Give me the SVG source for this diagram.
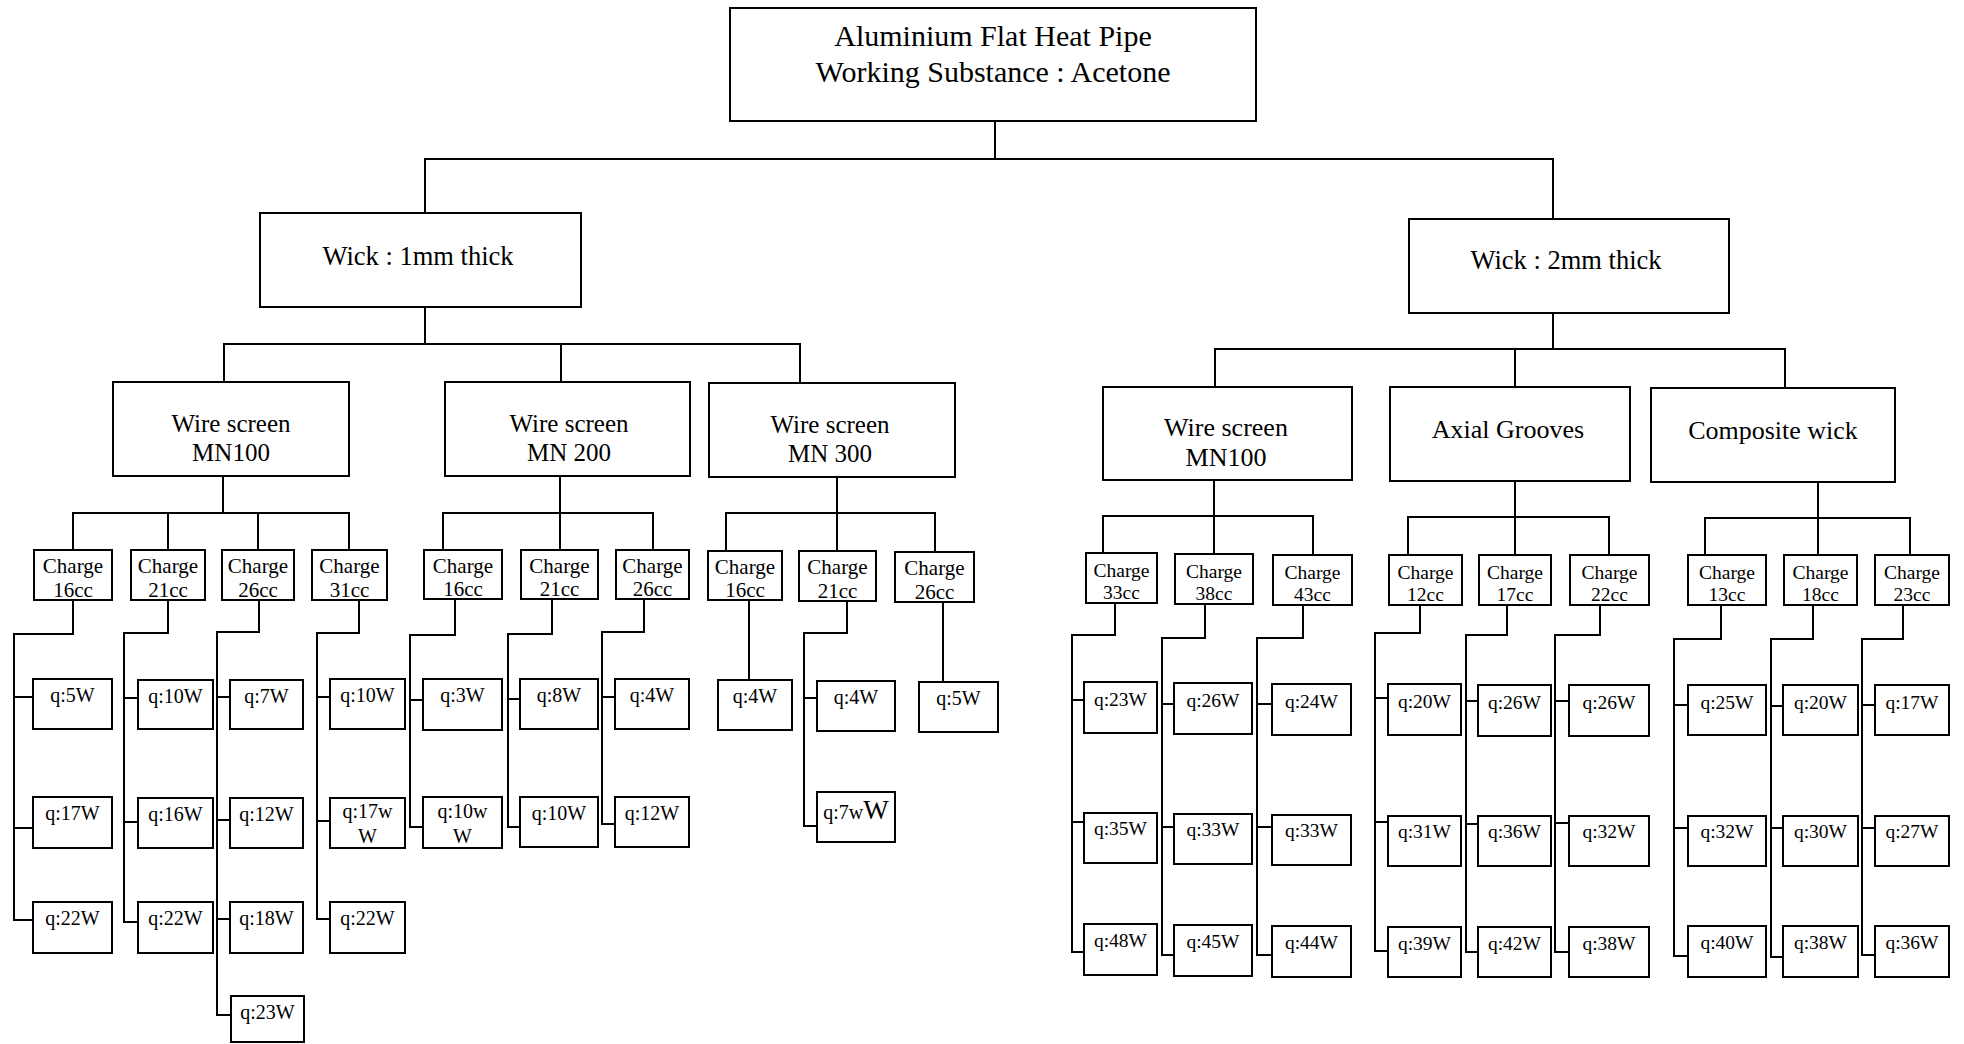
<svg xmlns="http://www.w3.org/2000/svg" width="1964" height="1044" viewBox="0 0 1964 1044">
<style>
.bx{fill:#fff;stroke:#000;stroke-width:2}
.ln{fill:none;stroke:#000;stroke-width:2}
text{font-family:"Liberation Serif","Times New Roman",serif;fill:#000;text-anchor:middle}
.t1{font-size:30px}
.tw{font-size:26.5px}
.tl{font-size:25px}
.tr{font-size:26px}
.cl{font-size:21px}
.cr{font-size:19.5px}
.ql{font-size:20px}
.qr{font-size:19.5px}
</style>
<rect width="1964" height="1044" fill="#fff"/>
<g id="connectors" class="ln">
<path d="M995 121V159M425 213V159H1553V219"/>
<path d="M425 307V344M224 382V344H800V383M561 344V382"/>
<path d="M1553 313V349M1215 387V349H1785V388M1515 349V387"/>
<path d="M223 476V513M73 550V513H349V550M168 513V550M258 513V550"/>
<path d="M560 476V513M443 550V513H653V550M560 513V550"/>
<path d="M837 477V513M726 551V513H935V552M837 513V551"/>
<path d="M1214 480V516M1103 553V516H1313V555M1214 516V554"/>
<path d="M1515 481V517M1408 555V517H1609V555M1515 517V555"/>
<path d="M1818 482V518M1705 555V518H1910V555M1818 518V555"/>
<path d="M73 600V634H14V920H33M14 697H33M14 828H33"/>
<path d="M168 600V633H124V922H138M124 698H138M124 822H138"/>
<path d="M259 600V632H217V1015H230M217 697H230M217 820H230M217 919H230"/>
<path d="M359 600V633H317V919H330M317 697H330M317 821H330"/>
<path d="M455 600V635H410V827H423M410 700H423"/>
<path d="M552 599V634H508V827H520M508 699H520"/>
<path d="M644 599V632H602V824H615M602 697H615"/>
<path d="M749 600V680"/>
<path d="M847 601V633H804V826H817M804 698H817"/>
<path d="M943 602V682"/>
<path d="M1115 603V635H1072V952H1084M1072 700H1084M1072 822H1084"/>
<path d="M1205 604V638H1162V955H1174M1162 704H1174M1162 827H1174"/>
<path d="M1303 605V638H1257V955H1272M1257 704H1272M1257 827H1272"/>
<path d="M1420 605V633H1375V951H1388M1375 698H1388M1375 822H1388"/>
<path d="M1507 605V635H1466V952H1478M1466 701H1478M1466 824H1478"/>
<path d="M1600 605V635H1555V952H1569M1555 701H1569M1555 823H1569"/>
<path d="M1721 605V639H1674V956H1688M1674 705H1688M1674 828H1688"/>
<path d="M1813 605V639H1771V957H1783M1771 706H1783M1771 828H1783"/>
<path d="M1903 605V639H1862V955H1875M1862 705H1875M1862 828H1875"/>
</g>
<g id="n-top"><rect class="bx" x="730" y="8" width="526" height="113"/><text class="t1" x="993" y="46">Aluminium Flat Heat Pipe</text><text class="t1" x="993" y="82">Working Substance : Acetone</text></g>
<g id="n-wick1"><rect class="bx" x="260" y="213" width="321" height="94"/><text class="tw" x="418" y="265">Wick : 1mm thick</text></g>
<g id="n-wick2"><rect class="bx" x="1409" y="219" width="320" height="94"/><text class="tw" x="1566" y="269">Wick : 2mm thick</text></g>
<g id="n-ws100a"><rect class="bx" x="113" y="382" width="236" height="94"/><text class="tl" x="231" y="432">Wire screen</text><text class="tl" x="231" y="461">MN100</text></g>
<g id="n-ws200"><rect class="bx" x="445" y="382" width="245" height="94"/><text class="tl" x="569" y="432">Wire screen</text><text class="tl" x="569" y="461">MN 200</text></g>
<g id="n-ws300"><rect class="bx" x="709" y="383" width="246" height="94"/><text class="tl" x="830" y="433">Wire screen</text><text class="tl" x="830" y="462">MN 300</text></g>
<g id="n-ws100b"><rect class="bx" x="1103" y="387" width="249" height="93"/><text class="tr" x="1226" y="436">Wire screen</text><text class="tr" x="1226" y="466">MN100</text></g>
<g id="n-axial"><rect class="bx" x="1390" y="387" width="240" height="94"/><text class="tr" x="1508" y="438">Axial Grooves</text></g>
<g id="n-comp"><rect class="bx" x="1651" y="388" width="244" height="94"/><text class="tr" x="1773" y="439">Composite wick</text></g>
<g id="n-c16a"><rect class="bx" x="34" y="550" width="78" height="50"/><text class="cl" x="73" y="573">Charge</text><text class="cl" x="73" y="597">16cc</text></g>
<g id="n-c21a"><rect class="bx" x="131" y="550" width="74" height="50"/><text class="cl" x="168" y="573">Charge</text><text class="cl" x="168" y="597">21cc</text></g>
<g id="n-c26a"><rect class="bx" x="222" y="550" width="72" height="50"/><text class="cl" x="258" y="573">Charge</text><text class="cl" x="258" y="597">26cc</text></g>
<g id="n-c31a"><rect class="bx" x="312" y="550" width="75" height="50"/><text class="cl" x="349.5" y="573">Charge</text><text class="cl" x="349.5" y="597">31cc</text></g>
<g id="n-c16b"><rect class="bx" x="424" y="550" width="78" height="49"/><text class="cl" x="463" y="573">Charge</text><text class="cl" x="463" y="596">16cc</text></g>
<g id="n-c21b"><rect class="bx" x="521" y="550" width="77" height="49"/><text class="cl" x="559.5" y="573">Charge</text><text class="cl" x="559.5" y="596">21cc</text></g>
<g id="n-c26b"><rect class="bx" x="616" y="550" width="73" height="49"/><text class="cl" x="652.5" y="573">Charge</text><text class="cl" x="652.5" y="596">26cc</text></g>
<g id="n-c16c"><rect class="bx" x="708" y="551" width="74" height="49"/><text class="cl" x="745" y="574">Charge</text><text class="cl" x="745" y="597">16cc</text></g>
<g id="n-c21c"><rect class="bx" x="799" y="551" width="77" height="50"/><text class="cl" x="837.5" y="574">Charge</text><text class="cl" x="837.5" y="598">21cc</text></g>
<g id="n-c26c"><rect class="bx" x="895" y="552" width="79" height="50"/><text class="cl" x="934.5" y="575">Charge</text><text class="cl" x="934.5" y="599">26cc</text></g>
<g id="n-c33"><rect class="bx" x="1086" y="553" width="71" height="50"/><text class="cr" x="1121.5" y="577">Charge</text><text class="cr" x="1121.5" y="599">33cc</text></g>
<g id="n-c38"><rect class="bx" x="1175" y="554" width="78" height="50"/><text class="cr" x="1214" y="578">Charge</text><text class="cr" x="1214" y="600">38cc</text></g>
<g id="n-c43"><rect class="bx" x="1273" y="555" width="79" height="50"/><text class="cr" x="1312.5" y="579">Charge</text><text class="cr" x="1312.5" y="601">43cc</text></g>
<g id="n-c12"><rect class="bx" x="1389" y="555" width="73" height="50"/><text class="cr" x="1425.5" y="579">Charge</text><text class="cr" x="1425.5" y="601">12cc</text></g>
<g id="n-c17"><rect class="bx" x="1479" y="555" width="72" height="50"/><text class="cr" x="1515" y="579">Charge</text><text class="cr" x="1515" y="601">17cc</text></g>
<g id="n-c22"><rect class="bx" x="1570" y="555" width="79" height="50"/><text class="cr" x="1609.5" y="579">Charge</text><text class="cr" x="1609.5" y="601">22cc</text></g>
<g id="n-c13"><rect class="bx" x="1688" y="555" width="78" height="50"/><text class="cr" x="1727" y="579">Charge</text><text class="cr" x="1727" y="601">13cc</text></g>
<g id="n-c18"><rect class="bx" x="1784" y="555" width="73" height="50"/><text class="cr" x="1820.5" y="579">Charge</text><text class="cr" x="1820.5" y="601">18cc</text></g>
<g id="n-c23"><rect class="bx" x="1875" y="555" width="74" height="50"/><text class="cr" x="1912" y="579">Charge</text><text class="cr" x="1912" y="601">23cc</text></g>
<g id="n-q1"><rect class="bx" x="33" y="679" width="79" height="50"/><text class="ql" x="72.5" y="702">q:5W</text></g>
<g id="n-q2"><rect class="bx" x="33" y="797" width="79" height="51"/><text class="ql" x="72.5" y="820">q:17W</text></g>
<g id="n-q3"><rect class="bx" x="33" y="902" width="79" height="51"/><text class="ql" x="72.5" y="925">q:22W</text></g>
<g id="n-q4"><rect class="bx" x="138" y="680" width="75" height="49"/><text class="ql" x="175.5" y="703">q:10W</text></g>
<g id="n-q5"><rect class="bx" x="138" y="798" width="75" height="50"/><text class="ql" x="175.5" y="821">q:16W</text></g>
<g id="n-q6"><rect class="bx" x="138" y="902" width="75" height="51"/><text class="ql" x="175.5" y="925">q:22W</text></g>
<g id="n-q7"><rect class="bx" x="230" y="680" width="73" height="49"/><text class="ql" x="266.5" y="703">q:7W</text></g>
<g id="n-q8"><rect class="bx" x="230" y="798" width="73" height="50"/><text class="ql" x="266.5" y="821">q:12W</text></g>
<g id="n-q9"><rect class="bx" x="230" y="902" width="73" height="51"/><text class="ql" x="266.5" y="925">q:18W</text></g>
<g id="n-q10"><rect class="bx" x="231" y="996" width="73" height="46"/><text class="ql" x="267.5" y="1019">q:23W</text></g>
<g id="n-q11"><rect class="bx" x="330" y="679" width="75" height="50"/><text class="ql" x="367.5" y="702">q:10W</text></g>
<g id="n-q12"><rect class="bx" x="330" y="798" width="75" height="50"/><text class="ql" x="367.5" y="818">q:17w</text><text class="ql" x="367.5" y="843">W</text></g>
<g id="n-q13"><rect class="bx" x="330" y="902" width="75" height="51"/><text class="ql" x="367.5" y="925">q:22W</text></g>
<g id="n-q14"><rect class="bx" x="423" y="679" width="79" height="51"/><text class="ql" x="462.5" y="702">q:3W</text></g>
<g id="n-q15"><rect class="bx" x="423" y="797" width="79" height="51"/><text class="ql" x="462.5" y="818">q:10w</text><text class="ql" x="462.5" y="843">W</text></g>
<g id="n-q16"><rect class="bx" x="520" y="679" width="78" height="50"/><text class="ql" x="559" y="702">q:8W</text></g>
<g id="n-q17"><rect class="bx" x="520" y="797" width="78" height="50"/><text class="ql" x="559" y="820">q:10W</text></g>
<g id="n-q18"><rect class="bx" x="615" y="679" width="74" height="50"/><text class="ql" x="652" y="702">q:4W</text></g>
<g id="n-q19"><rect class="bx" x="615" y="797" width="74" height="50"/><text class="ql" x="652" y="820">q:12W</text></g>
<g id="n-q20"><rect class="bx" x="718" y="680" width="74" height="50"/><text class="ql" x="755" y="703">q:4W</text></g>
<g id="n-q21"><rect class="bx" x="817" y="681" width="78" height="50"/><text class="ql" x="856" y="704">q:4W</text></g>
<g id="n-q22"><rect class="bx" x="817" y="792" width="78" height="50"/><text class="ql" x="856" y="819"><tspan>q:7w</tspan><tspan font-size="27">W</tspan></text></g>
<g id="n-q23"><rect class="bx" x="919" y="682" width="79" height="50"/><text class="ql" x="958.5" y="705">q:5W</text></g>
<g id="n-q24"><rect class="bx" x="1084" y="682" width="73" height="51"/><text class="qr" x="1120.5" y="706">q:23W</text></g>
<g id="n-q25"><rect class="bx" x="1084" y="813" width="73" height="50"/><text class="qr" x="1120.5" y="835">q:35W</text></g>
<g id="n-q26"><rect class="bx" x="1084" y="924" width="73" height="51"/><text class="qr" x="1120.5" y="947">q:48W</text></g>
<g id="n-q27"><rect class="bx" x="1174" y="683" width="78" height="51"/><text class="qr" x="1213" y="707">q:26W</text></g>
<g id="n-q28"><rect class="bx" x="1174" y="814" width="78" height="50"/><text class="qr" x="1213" y="836">q:33W</text></g>
<g id="n-q29"><rect class="bx" x="1174" y="925" width="78" height="51"/><text class="qr" x="1213" y="948">q:45W</text></g>
<g id="n-q30"><rect class="bx" x="1272" y="684" width="79" height="51"/><text class="qr" x="1311.5" y="708">q:24W</text></g>
<g id="n-q31"><rect class="bx" x="1272" y="815" width="79" height="50"/><text class="qr" x="1311.5" y="837">q:33W</text></g>
<g id="n-q32"><rect class="bx" x="1272" y="926" width="79" height="51"/><text class="qr" x="1311.5" y="949">q:44W</text></g>
<g id="n-q33"><rect class="bx" x="1388" y="684" width="73" height="51"/><text class="qr" x="1424.5" y="708">q:20W</text></g>
<g id="n-q34"><rect class="bx" x="1388" y="816" width="73" height="50"/><text class="qr" x="1424.5" y="838">q:31W</text></g>
<g id="n-q35"><rect class="bx" x="1388" y="927" width="73" height="50"/><text class="qr" x="1424.5" y="950">q:39W</text></g>
<g id="n-q36"><rect class="bx" x="1478" y="685" width="73" height="51"/><text class="qr" x="1514.5" y="709">q:26W</text></g>
<g id="n-q37"><rect class="bx" x="1478" y="816" width="73" height="50"/><text class="qr" x="1514.5" y="838">q:36W</text></g>
<g id="n-q38"><rect class="bx" x="1478" y="927" width="73" height="50"/><text class="qr" x="1514.5" y="950">q:42W</text></g>
<g id="n-q39"><rect class="bx" x="1569" y="685" width="80" height="51"/><text class="qr" x="1609" y="709">q:26W</text></g>
<g id="n-q40"><rect class="bx" x="1569" y="816" width="80" height="50"/><text class="qr" x="1609" y="838">q:32W</text></g>
<g id="n-q41"><rect class="bx" x="1569" y="927" width="80" height="50"/><text class="qr" x="1609" y="950">q:38W</text></g>
<g id="n-q42"><rect class="bx" x="1688" y="685" width="78" height="50"/><text class="qr" x="1727" y="709">q:25W</text></g>
<g id="n-q43"><rect class="bx" x="1688" y="816" width="78" height="50"/><text class="qr" x="1727" y="838">q:32W</text></g>
<g id="n-q44"><rect class="bx" x="1688" y="926" width="78" height="51"/><text class="qr" x="1727" y="949">q:40W</text></g>
<g id="n-q45"><rect class="bx" x="1783" y="685" width="75" height="50"/><text class="qr" x="1820.5" y="709">q:20W</text></g>
<g id="n-q46"><rect class="bx" x="1783" y="816" width="75" height="50"/><text class="qr" x="1820.5" y="838">q:30W</text></g>
<g id="n-q47"><rect class="bx" x="1783" y="926" width="75" height="51"/><text class="qr" x="1820.5" y="949">q:38W</text></g>
<g id="n-q48"><rect class="bx" x="1875" y="685" width="74" height="50"/><text class="qr" x="1912" y="709">q:17W</text></g>
<g id="n-q49"><rect class="bx" x="1875" y="816" width="74" height="50"/><text class="qr" x="1912" y="838">q:27W</text></g>
<g id="n-q50"><rect class="bx" x="1875" y="926" width="74" height="51"/><text class="qr" x="1912" y="949">q:36W</text></g>
</svg>
